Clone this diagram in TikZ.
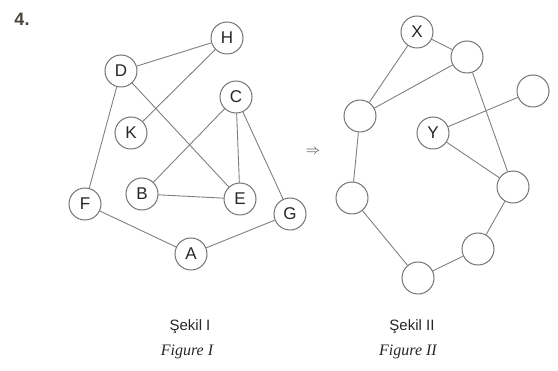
\documentclass[tikz,border=0pt]{standalone}
\usepackage{fontspec}
\setmainfont{Liberation Sans}
\newfontfamily\figfont{Liberation Serif}
\begin{document}
\begin{tikzpicture}[x=1pt,y=-1pt,
  vtx/.style={circle,draw=black!55,line width=1pt,fill=white,minimum size=32pt,inner sep=0pt,font=\fontsize{17}{17}\selectfont,text=black!85},
  edge/.style={draw=black!50,line width=0.9pt}]
\useasboundingbox (0,0) rectangle (558,371);
\node[font=\bfseries\fontsize{18}{18}\selectfont,text=black!70!yellow!60!black] (num) at (22,19) {4.};
% Figure I
\node[vtx] (H) at (227,38) {H};
\node[vtx] (D) at (121,71) {D};
\node[vtx] (C) at (236,97) {C};
\node[vtx] (K) at (131,133) {K};
\node[vtx] (F) at (85,204) {F};
\node[vtx] (B) at (142,194) {B};
\node[vtx] (E) at (240,199) {E};
\node[vtx] (G) at (290,214) {G};
\node[vtx] (A) at (191,254) {A};
\draw[edge] (D)--(H) (H)--(K) (D)--(F) (D)--(E) (C)--(B) (C)--(E) (C)--(G) (B)--(E) (F)--(A) (A)--(G);
% arrow
\node[font=\fontsize{14}{14}\selectfont,text=black!75] (arr) at (313,152) {$\Rightarrow$};
% Figure II
\node[vtx] (X) at (417,32) {X};
\node[vtx] (n1) at (467,57) {};
\node[vtx] (n2) at (533,91) {};
\node[vtx] (n3) at (360,116) {};
\node[vtx] (Y) at (433,133) {Y};
\node[vtx] (n4) at (513,187) {};
\node[vtx] (n5) at (352,198) {};
\node[vtx] (n6) at (478,249) {};
\node[vtx] (n7) at (418,278) {};
\draw[edge] (X)--(n3) (X)--(n1) (n1)--(n3) (n1)--(n4) (Y)--(n2) (Y)--(n4) (n3)--(n5) (n5)--(n7) (n7)--(n6) (n6)--(n4);
% captions
\node[font=\fontsize{15}{15}\selectfont,text=black!85] (s1) at (190,327) {Şekil I};
\node[font=\figfont\itshape\fontsize{16}{16}\selectfont,text=black!85] (f1) at (187,352) {Figure I};
\node[font=\fontsize{15}{15}\selectfont,text=black!85] (s2) at (412,327) {Şekil II};
\node[font=\figfont\itshape\fontsize{16}{16}\selectfont,text=black!85] (f2) at (408,352) {Figure II};
\end{tikzpicture}
\end{document}
